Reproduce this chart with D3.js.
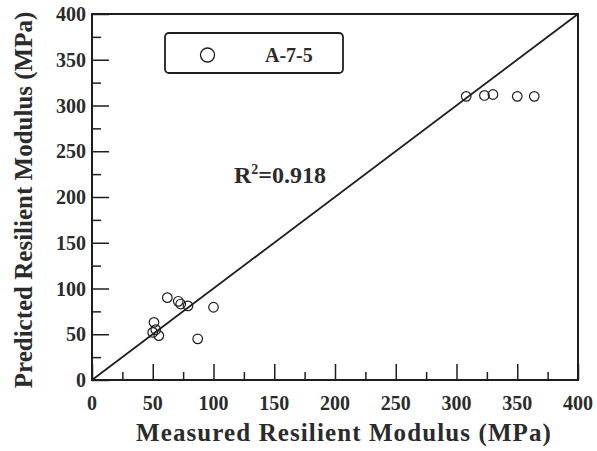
<!DOCTYPE html>
<html>
<head>
<meta charset="utf-8">
<script src="https://cdn.jsdelivr.net/npm/d3@7"></script>
<style>
  body { margin: 0; background: #fff; }
  svg text { font-family: "Liberation Serif", "DejaVu Serif", serif; font-weight: bold; fill: #2b2b2b; }
</style>
</head>
<body>
<svg id="chart" width="597" height="451"></svg>
<script>
// measured vs predicted resilient modulus, soil A-7-5
const measured  = [62, 71, 73, 79, 100, 51, 50, 52.5, 55, 87, 308, 323, 330, 350, 364]
const predicted = [90, 86, 83, 81, 79.5, 63, 52, 55, 48.5, 45, 310, 311, 312, 310, 310]
const majorTicks = [0, 50, 100, 150, 200, 250, 300, 350, 400]
const minorTicks = [25, 75, 125, 175, 225, 275, 325, 375]
const seriesName = 'A-7-5'
const r2Label = '0.918'

const svg = d3.select('#chart')
const x = d3.scaleLinear().domain([0, 400]).range([92, 578])
const y = d3.scaleLinear().domain([0, 400]).range([380, 14])
const ink = '#1e1e1e'

// frame
svg.append('rect')
  .attr('x', x(0)).attr('y', y(400))
  .attr('width', x(400) - x(0)).attr('height', y(0) - y(400))
  .attr('fill', 'none').attr('stroke', ink).attr('stroke-width', 2)

// inward ticks, bottom and left only
const xAxis = svg.append('g').attr('transform', `translate(0, ${y(0)})`)
  .call(d3.axisTop(x).tickValues(majorTicks).tickSize(16).tickFormat(''))
xAxis.append('g').call(d3.axisTop(x).tickValues(minorTicks).tickSize(8).tickFormat(''))
xAxis.selectAll('.domain').remove()
xAxis.selectAll('line').attr('stroke', ink).attr('stroke-width', 1.5)
svg.append('g').selectAll('text').data(majorTicks).enter().append('text')
  .attr('x', d => x(d)).attr('y', y(0) + 30)
  .attr('text-anchor', 'middle').attr('font-size', 20)
  .text(d => d)

const yAxis = svg.append('g').attr('transform', `translate(${x(0)}, 0)`)
  .call(d3.axisRight(y).tickValues(majorTicks).tickSize(17).tickFormat(''))
yAxis.append('g').call(d3.axisRight(y).tickValues(minorTicks).tickSize(9).tickFormat(''))
yAxis.selectAll('.domain').remove()
yAxis.selectAll('line').attr('stroke', ink).attr('stroke-width', 1.5)
svg.append('g').selectAll('text').data(majorTicks).enter().append('text')
  .attr('x', x(0) - 6).attr('y', d => y(d) + 7)
  .attr('text-anchor', 'end').attr('font-size', 20)
  .text(d => d)

// line of equality
svg.append('line')
  .attr('x1', x(0)).attr('y1', y(0)).attr('x2', x(400)).attr('y2', y(400))
  .attr('stroke', ink).attr('stroke-width', 1.8)

// points
svg.append('g').selectAll('circle').data(measured).enter().append('circle')
  .attr('cx', d => x(d)).attr('cy', (d, i) => y(predicted[i]))
  .attr('r', 4.8).attr('fill', 'none').attr('stroke', ink).attr('stroke-width', 1.2)

// legend
svg.append('rect')
  .attr('x', 165).attr('y', 33).attr('width', 178).attr('height', 40).attr('rx', 4)
  .attr('fill', '#fff').attr('stroke', ink).attr('stroke-width', 1.8)
svg.append('circle').attr('cx', 207.5).attr('cy', 55).attr('r', 7)
  .attr('fill', 'none').attr('stroke', ink).attr('stroke-width', 1.3)
svg.append('text').attr('x', 265).attr('y', 62).attr('font-size', 20).text(seriesName)

// R²
const r2 = svg.append('text').attr('x', 234).attr('y', 183).attr('font-size', 24)
r2.append('tspan').text('R')
r2.append('tspan').attr('font-size', 14).attr('dy', -9).text('2')
r2.append('tspan').attr('dy', 9).text('=' + r2Label)

// axis titles
svg.append('text').attr('x', 344).attr('y', 441).attr('text-anchor', 'middle')
  .attr('font-size', 25).attr('letter-spacing', 1.1).text('Measured Resilient Modulus (MPa)')
svg.append('text').attr('transform', 'translate(32, 200) rotate(-90)')
  .attr('text-anchor', 'middle').attr('font-size', 25).text('Predicted Resilient Modulus (MPa)')
</script>
</body>
</html>
